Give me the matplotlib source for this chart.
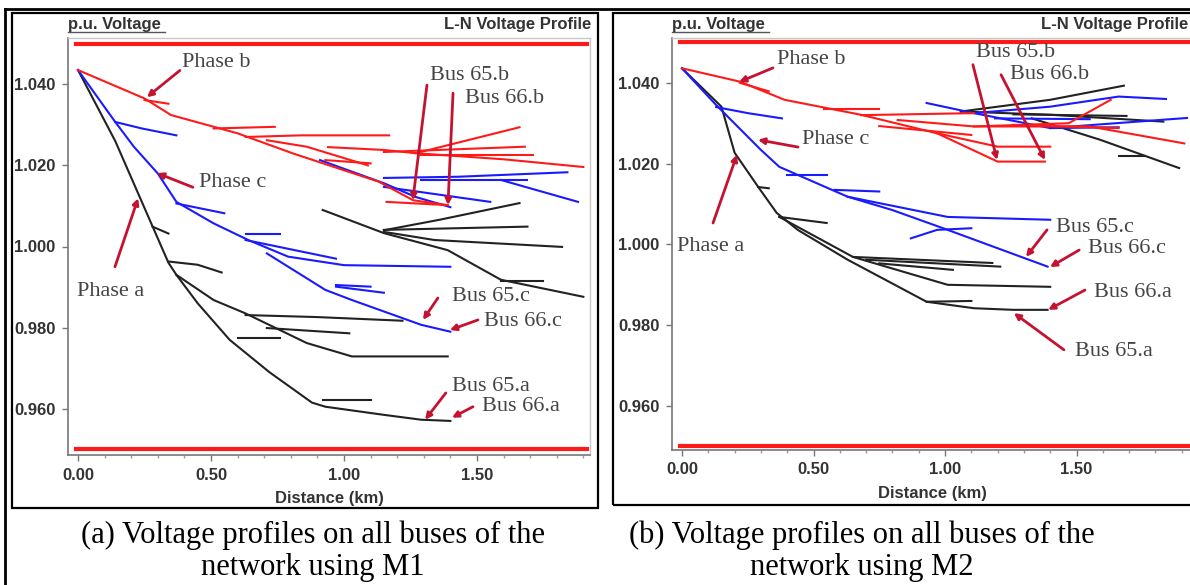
import matplotlib
matplotlib.use('Agg')
import matplotlib.pyplot as plt
from matplotlib.patches import Rectangle
from matplotlib.lines import Line2D
from matplotlib.ticker import MultipleLocator, FixedLocator, FormatStrFormatter

# ---------------- data (distance km, p.u. voltage) ----------------
# Panel (a) : method M1
m1_phase_a = [
    ([0.0, 0.14, 0.28, 0.34, 0.37, 0.45, 0.57, 0.72, 0.88, 0.93, 1.15, 1.29, 1.40],
     [1.0435, 1.026, 1.005, 0.996, 0.993, 0.986, 0.977, 0.969, 0.9615, 0.9605, 0.9585, 0.9573, 0.9570]),
    ([0.37, 0.51, 0.63, 0.86, 1.03, 1.39], [0.9930, 0.9868, 0.9835, 0.9762, 0.9729, 0.9729]),
    ([0.28, 0.34], [1.0049, 1.0032]),
    ([0.34, 0.45, 0.54], [0.9963, 0.9955, 0.9936]),
    ([0.60, 0.76], [0.9774, 0.9774]),
    ([0.63, 0.90, 1.22], [0.9831, 0.9826, 0.9817]),
    ([0.71, 1.02], [0.9799, 0.9786]),
    ([0.92, 1.10], [0.9622, 0.9622]),
    ([0.92, 1.15, 1.39, 1.59, 1.90], [1.0090, 1.0033, 0.9991, 0.9918, 0.9876]),
    ([1.15, 1.36, 1.66], [1.0040, 1.0066, 1.0107]),
    ([1.15, 1.69], [1.0041, 1.0049]),
    ([1.15, 1.34, 1.82], [1.0036, 1.0016, 0.9999]),
    ([1.59, 1.75], [0.9915, 0.9915]),
]
m1_phase_b = [
    ([0.0, 0.25, 0.35, 0.60, 0.81, 1.00, 1.13, 1.26, 1.39],
     [1.0435, 1.0365, 1.0324, 1.0279, 1.0229, 1.0188, 1.0160, 1.0114, 1.0102]),
    ([0.25, 0.34], [1.0361, 1.0352]),
    ([0.51, 0.74], [1.0291, 1.0295]),
    ([0.63, 0.84, 1.17], [1.0270, 1.0274, 1.0274]),
    ([0.71, 0.86, 1.09], [1.0262, 1.0246, 1.0200]),
    ([0.94, 1.15, 1.27, 1.66], [1.0245, 1.0238, 1.0230, 1.0294]),
    ([1.27, 1.60, 1.90], [1.0230, 1.0215, 1.0196]),
    ([1.15, 1.68], [1.0233, 1.0246]),
    ([1.29, 1.71], [1.0225, 1.0225]),
    ([0.93, 1.10], [1.0213, 1.0205]),
    ([1.16, 1.39], [1.0110, 1.0102]),
]
m1_phase_c = [
    ([0.0, 0.14, 0.21, 0.30, 0.37, 0.51, 0.64, 0.79, 1.00, 1.40],
     [1.0435, 1.0307, 1.0246, 1.0180, 1.0110, 1.0057, 1.0016, 0.9975, 0.9954, 0.9950]),
    ([0.71, 0.93, 1.03, 1.29, 1.40], [0.9983, 0.9893, 0.9868, 0.9807, 0.9790]),
    ([0.14, 0.24, 0.37], [1.0307, 1.0291, 1.0274]),
    ([0.37, 0.55], [1.0106, 1.0082]),
    ([0.63, 0.76], [1.0032, 1.0032]),
    ([0.63, 0.97], [1.0016, 0.9970]),
    ([0.97, 1.10], [0.9905, 0.9901]),
    ([0.97, 1.15], [0.9901, 0.9886]),
    ([0.91, 1.15, 1.27, 1.40], [1.0213, 1.0156, 1.0122, 1.0097]),
    ([1.15, 1.43, 1.84], [1.0169, 1.0172, 1.0183]),
    ([1.29, 1.69], [1.0164, 1.0164]),
    ([1.59, 1.88], [1.0164, 1.0110]),
    ([1.15, 1.55], [1.0147, 1.0110]),
]

# Panel (b) : method M2
m2_phase_a = [
    ([0.0, 0.15, 0.20, 0.29, 0.36, 0.44, 0.63, 0.93, 1.11, 1.26, 1.39],
     [1.0436, 1.0341, 1.0227, 1.0142, 1.0078, 1.0036, 0.9962, 0.9858, 0.9842, 0.9838, 0.9838]),
    ([0.37, 0.65, 1.01, 1.40], [1.0068, 0.9969, 0.9900, 0.9895]),
    ([0.29, 0.33], [1.0142, 1.0139]),
    ([0.37, 0.55], [1.0068, 1.0053]),
    ([0.65, 1.18], [0.9969, 0.9954]),
    ([0.70, 1.21], [0.9962, 0.9945]),
    ([0.75, 1.03], [0.9953, 0.9937]),
    ([0.93, 1.10], [0.9858, 0.9860]),
    ([1.06, 1.40, 1.68], [1.0329, 1.0358, 1.0393]),
    ([1.06, 1.40, 1.83], [1.0329, 1.0321, 1.0304]),
    ([1.26, 1.69], [1.0322, 1.0318]),
    ([1.33, 1.59, 1.89], [1.0312, 1.0259, 1.0189]),
    ([1.66, 1.76], [1.0218, 1.0218]),
]
m2_phase_b = [
    ([0.0, 0.22, 0.39, 0.68, 0.97, 1.20, 1.38],
     [1.0436, 1.0403, 1.0358, 1.0321, 1.0275, 1.0205, 1.0205]),
    ([0.22, 0.33], [1.0400, 1.0379]),
    ([0.54, 0.75], [1.0334, 1.0334]),
    ([0.68, 1.11], [1.0320, 1.0325]),
    ([0.75, 1.10], [1.0293, 1.0271]),
    ([0.97, 1.20, 1.40], [1.0275, 1.0242, 1.0242]),
    ([0.82, 1.11, 1.47, 1.63], [1.0308, 1.0292, 1.0300, 1.0358]),
    ([1.11, 1.55, 1.91], [1.0292, 1.0292, 1.0250]),
    ([1.26, 1.66], [1.0296, 1.0288]),
]
m2_phase_c = [
    ([0.0, 0.13, 0.30, 0.37, 0.63, 1.01, 1.40],
     [1.0436, 1.0345, 1.0234, 1.0192, 1.0118, 1.0068, 1.0061]),
    ([0.63, 0.80, 1.01, 1.39], [1.0118, 1.0085, 1.0036, 0.9945]),
    ([0.13, 0.25, 0.38], [1.0340, 1.0325, 1.0312]),
    ([0.40, 0.55], [1.0172, 1.0172]),
    ([0.58, 0.75], [1.0135, 1.0131]),
    ([0.87, 0.97, 1.10], [1.0015, 1.0036, 1.0040]),
    ([0.93, 1.11, 1.40, 1.92], [1.0350, 1.0325, 1.0288, 1.0313]),
    ([1.11, 1.40, 1.66, 1.84], [1.0325, 1.0341, 1.0366, 1.0360]),
    ([1.19, 1.55], [1.0312, 1.0310]),
    ([1.40, 1.66], [1.0288, 1.0290]),
]

v_limits = [0.95, 1.05]
y_ticks = [0.96, 0.98, 1.00, 1.02, 1.04]
x_ticks = [0.0, 0.5, 1.0, 1.5]

m1_labels = ["Phase b", "Bus 65.b", "Bus 66.b", "Phase c", "Phase a",
             "Bus 65.c", "Bus 66.c", "Bus 65.a", "Bus 66.a"]
m2_labels = ["Phase b", "Bus 65.b", "Bus 66.b", "Phase c", "Phase a",
             "Bus 65.c", "Bus 66.c", "Bus 66.a", "Bus 65.a"]
captions = [("(a) Voltage profiles on all buses of the", "network using M1"),
            ("(b) Voltage profiles on all buses of the", "network using M2")]

# ---------------- figure ----------------
W, H = 1190, 585
fig = plt.figure(figsize=(W / 100, H / 100), dpi=100)


def fx(p):
    return p / W


def fy(p):
    return 1 - p / H


RED = '#ff1a1a'
BLUE = '#1a1aff'
BLACK = '#222222'
ANN = '#c41230'

# text label positions: (text x, text y, line start x, y, line end x, y)
m1_pos = [
    (0.391, 1.0454, 0.383, 1.0434, 0.259, 1.0368),
    (1.323, 1.0422, 1.312, 1.0398, 1.259, 1.0114),
    (1.455, 1.0366, 1.410, 1.0378, 1.391, 1.0102),
    (0.455, 1.0159, 0.432, 1.0146, 0.297, 1.0181),
    (-0.004, 0.9888, 0.139, 0.9950, 0.226, 1.0119),
    (1.406, 0.9876, 1.353, 0.9873, 1.297, 0.9819),
    (1.526, 0.9814, 1.504, 0.9819, 1.398, 0.9794),
    (1.406, 0.9654, 1.383, 0.9639, 1.305, 0.9573),
    (1.519, 0.9605, 1.485, 0.9605, 1.406, 0.9578),
]
m2_pos = [
    (0.361, 1.0457, 0.346, 1.0437, 0.217, 1.0402),
    (1.118, 1.0474, 1.106, 1.0445, 1.198, 1.0209),
    (1.247, 1.0420, 1.213, 1.0420, 1.380, 1.0209),
    (0.456, 1.0259, 0.441, 1.0241, 0.289, 1.0259),
    (-0.019, 0.9994, 0.118, 1.0053, 0.209, 1.0222),
    (1.422, 1.0041, 1.388, 1.0036, 1.308, 0.9969),
    (1.544, 0.9991, 1.510, 0.9986, 1.399, 0.9944),
    (1.567, 0.9880, 1.532, 0.9887, 1.392, 0.9838),
    (1.494, 0.9734, 1.452, 0.9739, 1.262, 0.9830),
]

panels = [
    dict(rect=(68, 38, 590, 455), xlim=(-0.0376, 1.925), ylim=(0.9486, 1.0514),
         a=m1_phase_a, b=m1_phase_b, c=m1_phase_c, labels=m1_labels, pos=m1_pos,
         frame=(12, 13, 598, 508), cap_x=313, title_right=591),
    dict(rect=(672, 38, 1192, 450), xlim=(-0.038, 1.939), ylim=(0.9491, 1.0511),
         a=m2_phase_a, b=m2_phase_b, c=m2_phase_c, labels=m2_labels, pos=m2_pos,
         frame=(613, 13, 1196, 505), cap_x=862, title_right=1188),
]

for k, p in enumerate(panels):
    x0, y0, x1, y1 = p['rect']
    ax = fig.add_axes([fx(x0), fy(y1), (x1 - x0) / W, (y1 - y0) / H])
    ax.set_xlim(*p['xlim'])
    ax.set_ylim(*p['ylim'])
    for s in ['top', 'right']:
        ax.spines[s].set_color('#c8c8c8')
        ax.spines[s].set_linewidth(1.0)
    for s in ['left', 'bottom']:
        ax.spines[s].set_color('#777777')
        ax.spines[s].set_linewidth(1.2)

    for v in v_limits:
        ax.axhline(v, xmin=0.015, xmax=0.995, color=RED, lw=3, zorder=2)

    for xs, ys in p['a']:
        ax.plot(xs, ys, color=BLACK, lw=1.5, zorder=3)
    for xs, ys in p['c']:
        ax.plot(xs, ys, color=BLUE, lw=1.5, zorder=3)
    for xs, ys in p['b']:
        ax.plot(xs, ys, color=RED, lw=1.5, zorder=3)

    ax.yaxis.set_major_locator(FixedLocator(y_ticks))
    ax.yaxis.set_major_formatter(FormatStrFormatter('%.3f'))
    ax.xaxis.set_major_locator(FixedLocator(x_ticks))
    ax.xaxis.set_major_formatter(FormatStrFormatter('%.2f'))
    ax.xaxis.set_minor_locator(MultipleLocator(0.1))
    ax.tick_params(axis='both', which='major', length=4, width=1, color='#777777',
                   labelsize=12, labelcolor='#333333', pad=5)
    ax.tick_params(axis='x', which='minor', length=2.5, width=1, color='#999999')
    for lab in ax.get_xticklabels() + ax.get_yticklabels():
        lab.set_fontweight('bold')
        lab.set_family('Liberation Sans')
    ax.set_xlabel('Distance (km)', fontsize=12, fontweight='bold', color='#333333',
                  family='Liberation Sans', labelpad=6)

    # header texts
    fig.text(fx(x0), fy(24), 'p.u. Voltage', fontsize=12, fontweight='bold',
             color='#333333', family='Liberation Sans', va='center', ha='left')
    fig.add_artist(Line2D([fx(x0), fx(x0 + 97)], [fy(32), fy(32)], color='#555555', lw=1))
    fig.text(fx(p['title_right']), fy(24), 'L-N Voltage Profile', fontsize=12,
             fontweight='bold', color='#333333', family='Liberation Sans',
             va='center', ha='right')

    # annotations
    for lab, (tx, ty, lx0, ly0, lx1, ly1) in zip(p['labels'], p['pos']):
        ax.text(tx, ty, lab, fontsize=16, family='Liberation Serif', color='#444444',
                ha='left', va='center', zorder=5)
        ax.annotate('', xy=(lx1, ly1), xytext=(lx0, ly0),
                    arrowprops=dict(arrowstyle='-|>', color=ANN, lw=2,
                                    mutation_scale=9, shrinkA=0, shrinkB=0),
                    zorder=6)

    # panel frame
    fx0, fy0, fx1, fy1 = p['frame']
    fig.add_artist(Rectangle((fx(fx0), fy(fy1)), (fx1 - fx0) / W, (fy1 - fy0) / H,
                             fill=False, edgecolor='black', lw=1.6))
    # caption
    fig.text(fx(p['cap_x']), fy(535), captions[k][0], fontsize=22,
             family='Liberation Serif', ha='center', va='center', color='black')
    fig.text(fx(p['cap_x']), fy(568), captions[k][1], fontsize=22,
             family='Liberation Serif', ha='center', va='center', color='black')

# outer table borders
fig.add_artist(Line2D([fx(5), fx(5)], [fy(9), 0], color='black', lw=2))
fig.add_artist(Line2D([fx(5), 1], [fy(9), fy(9)], color='black', lw=2))

fig.savefig('out.png', dpi=100)
